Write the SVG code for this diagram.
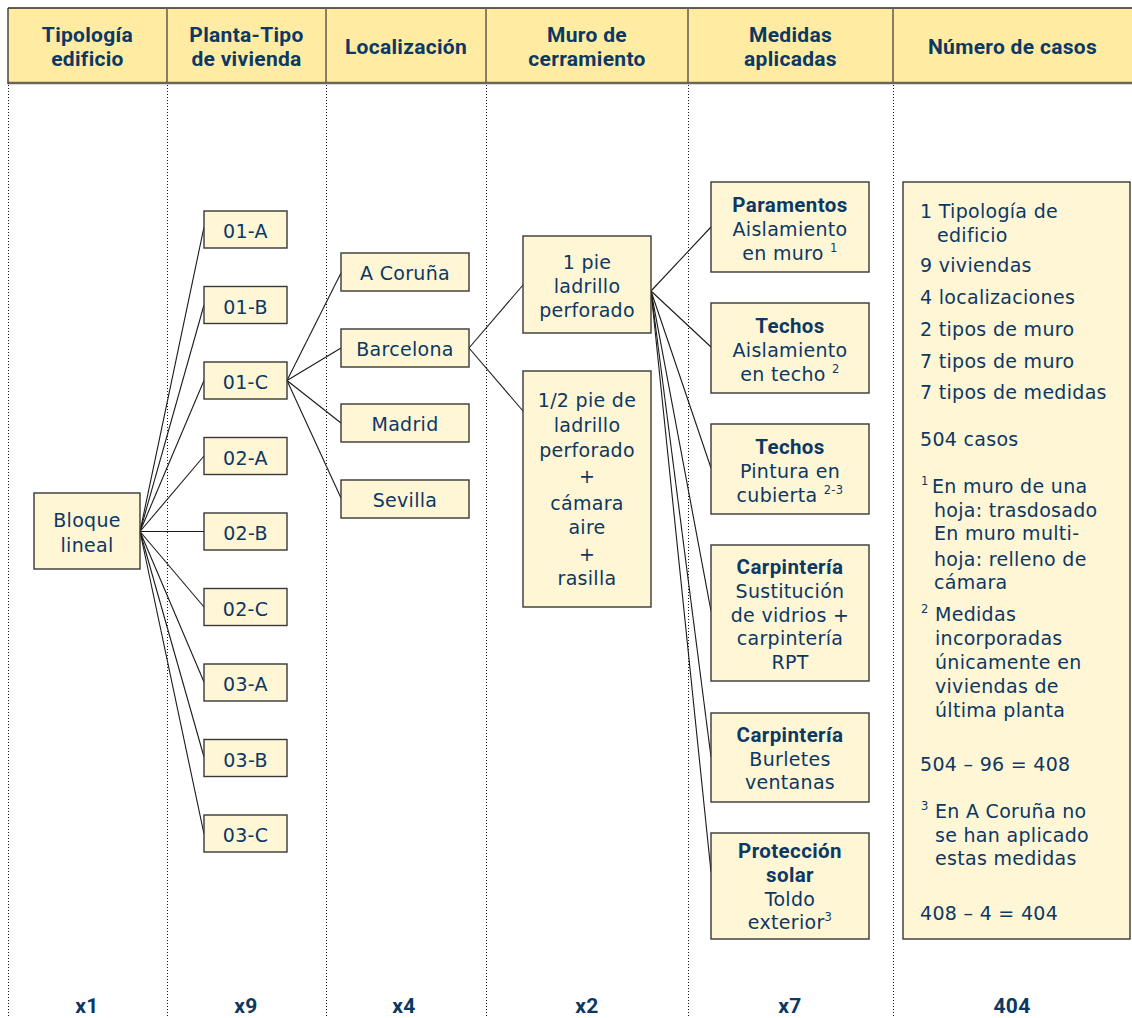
<svg xmlns="http://www.w3.org/2000/svg" width="1132" height="1018" viewBox="0 0 1132 1018">
<style>
.hd{font-family:Roboto,"Liberation Sans",sans-serif;font-weight:700;font-size:21px;fill:#0c3862;text-anchor:middle;letter-spacing:0.3px}
.bt{font-family:Roboto,"Liberation Sans",sans-serif;font-weight:700;font-size:20.5px;fill:#0c3862;text-anchor:middle;letter-spacing:0.4px}
.t{font-family:"DejaVu Sans",sans-serif;font-size:19px;fill:#0c3862;text-anchor:middle;letter-spacing:0.3px}
.tl{font-family:"DejaVu Sans",sans-serif;font-size:19px;fill:#0c3862;letter-spacing:0.3px}
.sup{font-family:"DejaVu Sans",sans-serif;font-size:11.5px;fill:#0c3862}
.box{fill:#fff6d6;stroke:#383838;stroke-width:1.4}
.dot{stroke:#111;stroke-width:1;stroke-dasharray:1 2;fill:none}
.cn{stroke:#1a1a1a;stroke-width:1.1;fill:none}
</style>
<rect x="0" y="0" width="1132" height="1018" fill="#ffffff"/>
<g id="header">
<rect x="8" y="8" width="1124" height="75" fill="#ffeca2"/>
<line x1="8" y1="8" x2="1132" y2="8" stroke="#2a2a2a" stroke-width="1.6"/>
<line x1="8" y1="83" x2="1132" y2="83" stroke="#6a6658" stroke-width="2.6"/>
<line x1="8" y1="8" x2="8" y2="84" stroke="#3a3a3a" stroke-width="1.4"/>
<g stroke="#6a6450" stroke-width="1.6">
<line x1="167" y1="8" x2="167" y2="83"/>
<line x1="326" y1="8" x2="326" y2="83"/>
<line x1="486" y1="8" x2="486" y2="83"/>
<line x1="688" y1="8" x2="688" y2="83"/>
<line x1="893" y1="8" x2="893" y2="83"/>
</g>
<text class="hd" x="87.5" y="42">Tipología</text>
<text class="hd" x="87.5" y="66">edificio</text>
<text class="hd" x="246.5" y="42">Planta-Tipo</text>
<text class="hd" x="246.5" y="66">de vivienda</text>
<text class="hd" x="406" y="54">Localización</text>
<text class="hd" x="587" y="42">Muro de</text>
<text class="hd" x="587" y="66">cerramiento</text>
<text class="hd" x="790.5" y="42">Medidas</text>
<text class="hd" x="790.5" y="66">aplicadas</text>
<text class="hd" x="1012.5" y="54">Número de casos</text>
</g>
<g id="columns">
<line class="dot" x1="8.5" y1="85" x2="8.5" y2="1016"/>
<line class="dot" x1="167.5" y1="85" x2="167.5" y2="1016"/>
<line class="dot" x1="326.5" y1="85" x2="326.5" y2="1016"/>
<line class="dot" x1="486.5" y1="85" x2="486.5" y2="1016"/>
<line class="dot" x1="688.5" y1="85" x2="688.5" y2="1016"/>
<line class="dot" x1="893.5" y1="85" x2="893.5" y2="1016"/>
</g>
<g id="connectors">
<line class="cn" x1="140" y1="531.5" x2="204" y2="227"/>
<line class="cn" x1="140" y1="531.5" x2="204" y2="305"/>
<line class="cn" x1="140" y1="531.5" x2="204" y2="380.5"/>
<line class="cn" x1="140" y1="531.5" x2="204" y2="456"/>
<line class="cn" x1="140" y1="531.5" x2="204" y2="531.5"/>
<line class="cn" x1="140" y1="531.5" x2="204" y2="607"/>
<line class="cn" x1="140" y1="531.5" x2="204" y2="682"/>
<line class="cn" x1="140" y1="531.5" x2="204" y2="757"/>
<line class="cn" x1="140" y1="531.5" x2="204" y2="834"/>
<line class="cn" x1="287" y1="380.5" x2="341" y2="273"/>
<line class="cn" x1="287" y1="380.5" x2="341" y2="348"/>
<line class="cn" x1="287" y1="380.5" x2="341" y2="423"/>
<line class="cn" x1="287" y1="380.5" x2="341" y2="498"/>
<line class="cn" x1="469" y1="348" x2="523" y2="285"/>
<line class="cn" x1="469" y1="348" x2="523" y2="411"/>
<line class="cn" x1="651" y1="291" x2="711" y2="227"/>
<line class="cn" x1="651" y1="291" x2="711" y2="347"/>
<line class="cn" x1="651" y1="291" x2="711" y2="468"/>
<line class="cn" x1="651" y1="291" x2="711" y2="611"/>
<line class="cn" x1="651" y1="291" x2="711" y2="757"/>
<line class="cn" x1="651" y1="291" x2="711" y2="872"/>
</g>
<g id="bloque-lineal">
<rect class="box" x="34" y="493" width="106" height="76"/>
<text class="t" x="87" y="527">Bloque</text>
<text class="t" x="87" y="552">lineal</text>
</g>
<g id="p01A"><rect class="box" x="204" y="211" width="83" height="37"/><text class="t" x="245.5" y="238">01-A</text></g>
<g id="p01B"><rect class="box" x="204" y="286.5" width="83" height="37"/><text class="t" x="245.5" y="313.5">01-B</text></g>
<g id="p01C"><rect class="box" x="204" y="362" width="83" height="37"/><text class="t" x="245.5" y="389">01-C</text></g>
<g id="p02A"><rect class="box" x="204" y="437.5" width="83" height="37"/><text class="t" x="245.5" y="464.5">02-A</text></g>
<g id="p02B"><rect class="box" x="204" y="513" width="83" height="37"/><text class="t" x="245.5" y="540">02-B</text></g>
<g id="p02C"><rect class="box" x="204" y="588.5" width="83" height="37"/><text class="t" x="245.5" y="615.5">02-C</text></g>
<g id="p03A"><rect class="box" x="204" y="664" width="83" height="37"/><text class="t" x="245.5" y="691">03-A</text></g>
<g id="p03B"><rect class="box" x="204" y="739.5" width="83" height="37"/><text class="t" x="245.5" y="766.5">03-B</text></g>
<g id="p03C"><rect class="box" x="204" y="815" width="83" height="37"/><text class="t" x="245.5" y="842">03-C</text></g>
<g id="a-coruna"><rect class="box" x="341" y="253" width="128" height="38"/><text class="t" x="405" y="280">A Coruña</text></g>
<g id="barcelona"><rect class="box" x="341" y="329" width="128" height="38"/><text class="t" x="405" y="356">Barcelona</text></g>
<g id="madrid"><rect class="box" x="341" y="404" width="128" height="38"/><text class="t" x="405" y="431">Madrid</text></g>
<g id="sevilla"><rect class="box" x="341" y="480" width="128" height="38"/><text class="t" x="405" y="507">Sevilla</text></g>
<g id="muro-1pie">
<rect class="box" x="523" y="236" width="128" height="97"/>
<text class="t" x="587" y="269">1 pie</text>
<text class="t" x="587" y="293">ladrillo</text>
<text class="t" x="587" y="317">perforado</text>
</g>
<g id="muro-medio-pie">
<rect class="box" x="523" y="371" width="128" height="236"/>
<text class="t" x="587" y="407">1/2 pie de</text>
<text class="t" x="587" y="432">ladrillo</text>
<text class="t" x="587" y="457">perforado</text>
<text class="t" x="587" y="483">+</text>
<text class="t" x="587" y="510">cámara</text>
<text class="t" x="587" y="534">aire</text>
<text class="t" x="587" y="561">+</text>
<text class="t" x="587" y="585">rasilla</text>
</g>
<g id="m-paramentos">
<rect class="box" x="711" y="182" width="158" height="90"/>
<text class="bt" x="790" y="212">Paramentos</text>
<text class="t" x="790" y="236">Aislamiento</text>
<text class="t" x="790" y="260">en muro <tspan font-size="11.5" dy="-8">1</tspan></text>
</g>
<g id="m-techos-aislamiento">
<rect class="box" x="711" y="303" width="158" height="90"/>
<text class="bt" x="790" y="333">Techos</text>
<text class="t" x="790" y="357">Aislamiento</text>
<text class="t" x="790" y="381">en techo <tspan font-size="11.5" dy="-8">2</tspan></text>
</g>
<g id="m-techos-pintura">
<rect class="box" x="711" y="424" width="158" height="90"/>
<text class="bt" x="790" y="454">Techos</text>
<text class="t" x="790" y="478">Pintura en</text>
<text class="t" x="790" y="502">cubierta <tspan font-size="11.5" dy="-8">2-3</tspan></text>
</g>
<g id="m-carpinteria-vidrios">
<rect class="box" x="711" y="545" width="158" height="136"/>
<text class="bt" x="790" y="574">Carpintería</text>
<text class="t" x="790" y="598">Sustitución</text>
<text class="t" x="790" y="622">de vidrios +</text>
<text class="t" x="790" y="645">carpintería</text>
<text class="t" x="790" y="669">RPT</text>
</g>
<g id="m-carpinteria-burletes">
<rect class="box" x="711" y="713" width="158" height="89"/>
<text class="bt" x="790" y="742">Carpintería</text>
<text class="t" x="790" y="766">Burletes</text>
<text class="t" x="790" y="789">ventanas</text>
</g>
<g id="m-proteccion-solar">
<rect class="box" x="711" y="833" width="158" height="106"/>
<text class="bt" x="790" y="858">Protección</text>
<text class="bt" x="790" y="882">solar</text>
<text class="t" x="790" y="906">Toldo</text>
<text class="t" x="790" y="929">exterior<tspan font-size="11.5" dy="-8">3</tspan></text>
</g>
<g id="numero-casos">
<rect class="box" x="903" y="182" width="227" height="757"/>
<text class="tl" x="920" y="218">1 Tipología de</text>
<text class="tl" x="937" y="242">edificio</text>
<text class="tl" x="920" y="272">9 viviendas</text>
<text class="tl" x="920" y="304">4 localizaciones</text>
<text class="tl" x="920" y="336">2 tipos de muro</text>
<text class="tl" x="920" y="368">7 tipos de muro</text>
<text class="tl" x="920" y="399">7 tipos de medidas</text>
<text class="tl" x="920" y="446">504 casos</text>
<text class="sup" x="921" y="485">1</text>
<text class="tl" x="932" y="493">En muro de una</text>
<text class="tl" x="934" y="517">hoja: trasdosado</text>
<text class="tl" x="934" y="540">En muro multi-</text>
<text class="tl" x="934" y="566">hoja: relleno de</text>
<text class="tl" x="934" y="589">cámara</text>
<text class="sup" x="921" y="613">2</text>
<text class="tl" x="935" y="621">Medidas</text>
<text class="tl" x="935" y="645">incorporadas</text>
<text class="tl" x="935" y="669">únicamente en</text>
<text class="tl" x="935" y="693">viviendas de</text>
<text class="tl" x="935" y="717">última planta</text>
<text class="tl" x="920" y="771">504 – 96 = 408</text>
<text class="sup" x="921" y="810">3</text>
<text class="tl" x="935" y="818">En A Coruña no</text>
<text class="tl" x="935" y="842">se han aplicado</text>
<text class="tl" x="935" y="865">estas medidas</text>
<text class="tl" x="920" y="920">408 – 4 = 404</text>
</g>
<g id="totals">
<text class="hd" x="87" y="1013">x1</text>
<text class="hd" x="246" y="1013">x9</text>
<text class="hd" x="404" y="1013">x4</text>
<text class="hd" x="587" y="1013">x2</text>
<text class="hd" x="790" y="1013">x7</text>
<text class="hd" x="1012" y="1013">404</text>
</g>
</svg>
